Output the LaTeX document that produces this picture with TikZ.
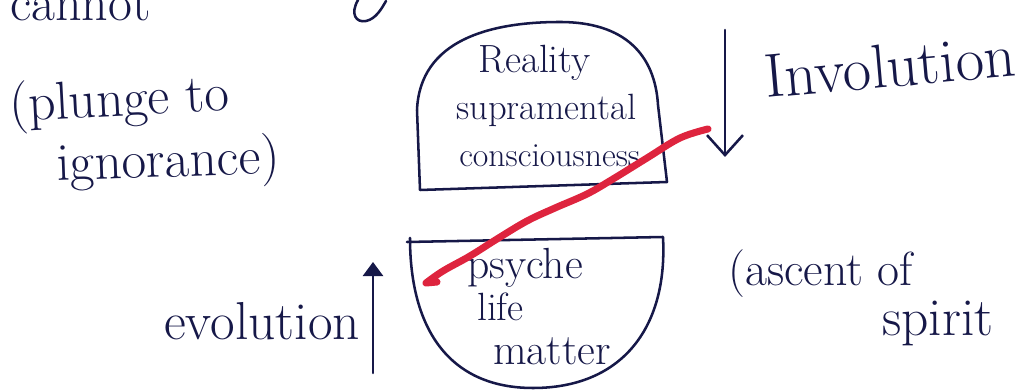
\documentclass[tikz,border=0pt]{standalone}
\usepackage{fontspec}
\usetikzlibrary{arrows.meta}
\definecolor{ink}{RGB}{22,24,72}
\definecolor{redpen}{RGB}{222,36,62}
\tikzset{
  hand/.style={text=ink,inner sep=0pt,anchor=base west,font=\fontsize{#1}{#1}\selectfont},
  pen/.style={draw=ink,line width=1.8pt,line cap=round,line join=round}
}
\begin{document}
\begin{tikzpicture}[x=0.025cm,y=-0.025cm]
\useasboundingbox (0,0) rectangle (1034,392);
\clip (0,0) rectangle (1034,392);
\node[hand=37] (cannot) at (10,21) {cannot};
\draw[pen] (358,0) .. controls (350,14) and (356,23) .. (366,21) .. controls (376,19) and (382,8) .. (386,1);
\draw[pen] (420,190) -- (417,110) .. controls (420,40) and (490,22) .. (560,22) .. controls (625,22) and (655,55) .. (658,105) -- (667,182) -- cycle;
\draw[pen] (407,242) -- (663,237) .. controls (668,330) and (620,388) .. (533,388) .. controls (450,388) and (410,330) .. (410,238);
\node[hand=28] (reality) at (478,73) {Reality};
\node[hand=26] (supra) at (456,120) {supramental};
\node[hand=24] (consc) at (459,167) {consciousness};
\node[hand=31] (psyche) at (467,279) {psyche};
\node[hand=28] (life) at (477,321) {life};
\node[hand=31] (matter) at (493,365) {matter};
\node[hand=38] (evol) at (164,340) {evolution};
\node[hand=44,rotate=5] (invol) at (766,98) {Involution};
\node[hand=38,rotate=3] (plunge) at (10,122) {(plunge to};
\node[hand=38,rotate=2] (ignor) at (57,181) {ignorance)};
\node[hand=34] (ascent) at (728,286) {(ascent of};
\node[hand=38] (spirit) at (882,336) {spirit};
\coordinate (invtop) at (725,30);
\coordinate (invtip) at (725,157);
\draw[pen,-{Straight Barb[length=5mm,width=9mm]}] (invtop) -- (invtip);
\coordinate (evbot) at (373,373);
\coordinate (evtip) at (373,262);
\draw[pen,-{Triangle[length=3.5mm,width=5mm]}] (evbot) -- (evtip);
\draw[redpen,line width=5pt,line cap=round,line join=round] plot[smooth,tension=0.6] coordinates {(708,129) (680,138) (647,158) (613,179) (587,194) (555,208) (527,221) (497,239) (470,256) (443,271) (426,283)} -- (437,282);
\end{tikzpicture}
\end{document}
